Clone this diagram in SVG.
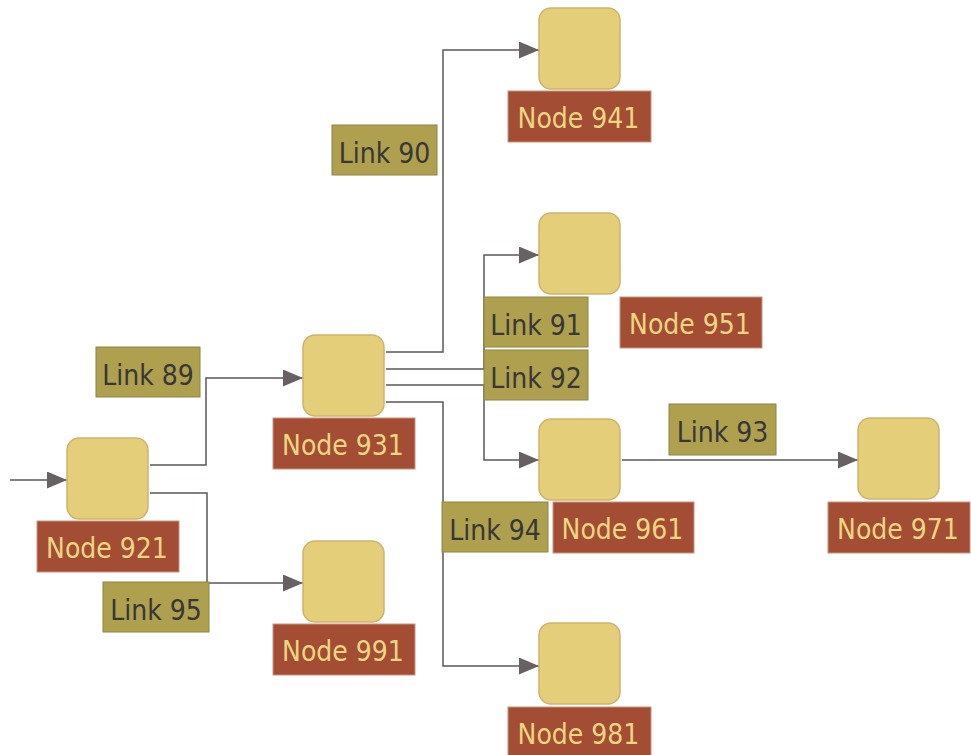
<svg xmlns="http://www.w3.org/2000/svg" width="971" height="755" viewBox="0 0 971 755">
  <style>
    .box { fill: #E4CE7A; stroke: #CDB46C; stroke-width: 1.5; }
    .nlab { fill: #A34D34; stroke: #C9957E; stroke-width: 1; }
    .ntxt { fill: #EDD681; font-family: "DejaVu Sans Condensed", "DejaVu Sans", sans-serif; font-size: 28px; text-anchor: middle; }
    .llab { fill: #AFA04F; stroke: #8E8445; stroke-width: 1; }
    .ltxt { fill: #383736; font-family: "DejaVu Sans Condensed", "DejaVu Sans", sans-serif; font-size: 28px; text-anchor: middle; }
    .edge { fill: none; stroke: #5C5759; stroke-width: 1.5; }
  </style>
  <defs>
    <marker id="arrow" markerUnits="userSpaceOnUse" markerWidth="20" markerHeight="18" refX="20" refY="8.5" orient="auto">
      <path d="M0,0 L20,8.5 L0,17 z" fill="#686163"/>
    </marker>
  </defs>
  <rect width="971" height="755" fill="#FFFFFF"/>

  <!-- connectors -->
  <g id="connectors">
    <path class="edge" d="M10,480 H67" marker-end="url(#arrow)"/>
    <path class="edge" d="M150,465 H206 V378 H303" marker-end="url(#arrow)"/>
    <path class="edge" d="M150,493 H207 V583 H303" marker-end="url(#arrow)"/>
    <path class="edge" d="M386,352 H443 V50 H539" marker-end="url(#arrow)"/>
    <path class="edge" d="M386,369 H484 V255 H539" marker-end="url(#arrow)"/>
    <path class="edge" d="M386,385 H484 V460 H539" marker-end="url(#arrow)"/>
    <path class="edge" d="M386,402 H443 V666 H539" marker-end="url(#arrow)"/>
    <path class="edge" d="M622,460 H858" marker-end="url(#arrow)"/>
  </g>

  <!-- link labels -->
  <g id="link-labels">
    <g id="link89"><rect class="llab" x="96" y="347" width="104" height="50"/><text class="ltxt" x="148" y="385">Link 89</text></g>
    <g id="link90"><rect class="llab" x="332" y="125" width="105" height="50"/><text class="ltxt" x="384.5" y="163">Link 90</text></g>
    <g id="link91"><rect class="llab" x="484" y="297" width="104" height="50"/><text class="ltxt" x="536" y="335">Link 91</text></g>
    <g id="link92"><rect class="llab" x="484" y="350" width="104" height="50"/><text class="ltxt" x="536" y="388">Link 92</text></g>
    <g id="link93"><rect class="llab" x="669" y="404" width="107" height="51"/><text class="ltxt" x="722.5" y="442">Link 93</text></g>
    <g id="link94"><rect class="llab" x="442" y="502" width="106" height="50"/><text class="ltxt" x="495" y="540">Link 94</text></g>
    <g id="link95"><rect class="llab" x="103" y="582" width="106" height="50"/><text class="ltxt" x="156" y="620">Link 95</text></g>
  </g>

  <!-- nodes -->
  <g id="node921"><rect class="box" x="67" y="438" width="81" height="81" rx="12"/><rect class="nlab" x="37" y="521" width="142" height="51"/><text class="ntxt" x="107" y="558">Node 921</text></g>
  <g id="node931"><rect class="box" x="303" y="335" width="81" height="81" rx="12"/><rect class="nlab" x="273" y="418" width="142" height="51"/><text class="ntxt" x="343" y="455">Node 931</text></g>
  <g id="node941"><rect class="box" x="539" y="8" width="81" height="81" rx="12"/><rect class="nlab" x="508" y="91" width="143" height="51"/><text class="ntxt" x="578.5" y="128">Node 941</text></g>
  <g id="node951"><rect class="box" x="539" y="213" width="81" height="81" rx="12"/><rect class="nlab" x="620" y="297" width="142" height="51"/><text class="ntxt" x="690" y="334">Node 951</text></g>
  <g id="node961"><rect class="box" x="539" y="419" width="81" height="81" rx="12"/><rect class="nlab" x="553" y="502" width="141" height="51"/><text class="ntxt" x="622.5" y="539">Node 961</text></g>
  <g id="node971"><rect class="box" x="858" y="418" width="81" height="81" rx="12"/><rect class="nlab" x="828" y="502" width="142" height="51"/><text class="ntxt" x="898" y="539">Node 971</text></g>
  <g id="node981"><rect class="box" x="539" y="623" width="81" height="81" rx="12"/><rect class="nlab" x="508" y="707" width="143" height="51"/><text class="ntxt" x="578.5" y="744">Node 981</text></g>
  <g id="node991"><rect class="box" x="303" y="541" width="81" height="81" rx="12"/><rect class="nlab" x="273" y="624" width="142" height="51"/><text class="ntxt" x="343" y="661">Node 991</text></g>
</svg>
